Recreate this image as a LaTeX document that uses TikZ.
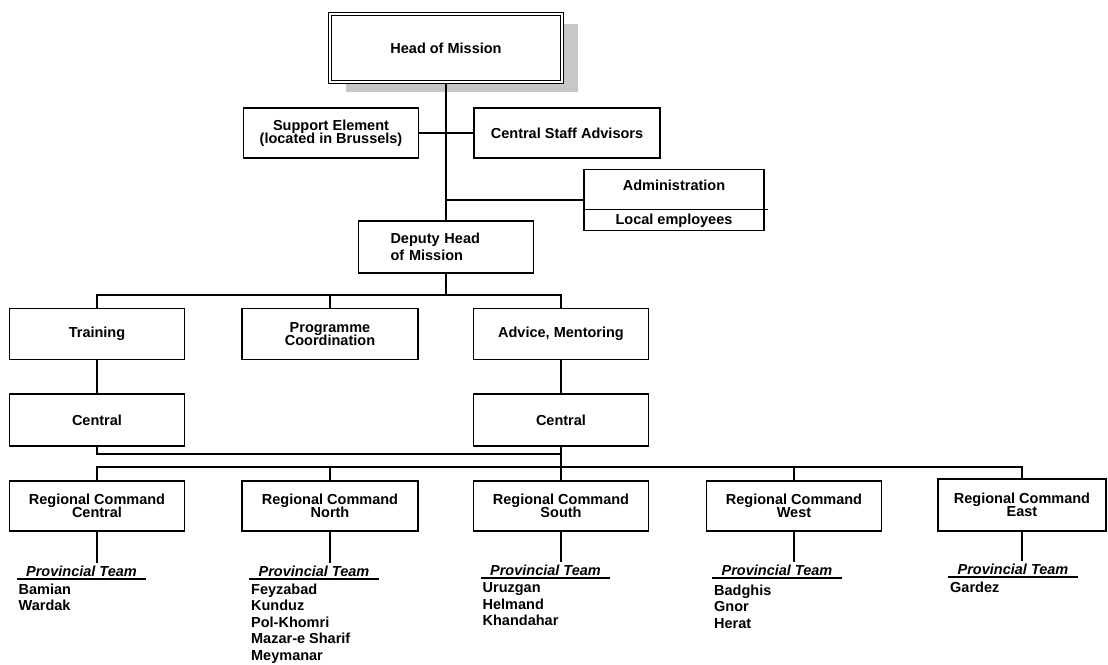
\documentclass[tikz,border=0pt]{standalone}
\usepackage{fontspec}
\setmainfont{Liberation Sans}
\usetikzlibrary{shadows}
\newcommand\tightlines{\lineskiplimit-20pt\relax}

\begin{document}
\begin{tikzpicture}[x=1pt,y=-1pt,line width=1.5pt,
  font=\bfseries\fontsize{14.5pt}{13.5pt}\selectfont\tightlines,
  box/.style={draw,rectangle,minimum width=175pt,minimum height=51pt,align=center,inner sep=2pt},
  team/.style={font=\bfseries\itshape\fontsize{14.5pt}{12pt}\selectfont,inner xsep=8.5pt,inner ysep=2pt,text depth=0pt,anchor=south},
  places/.style={font=\bfseries\fontsize{14.5pt}{16.5pt}\selectfont\tightlines,align=left,anchor=north west,inner sep=1pt}]

\useasboundingbox (0,0) rectangle (1108,664);

\node[box,minimum width=232pt,minimum height=68pt,fill=white,double,double distance=1.4pt,line width=1.1pt,
  drop shadow={shadow xshift=16pt,shadow yshift=-10pt,fill=black!22,opacity=1}] (n_head) at (446,48) {Head of Mission};
\node[box,minimum height=50pt] (n_supp) at (331,133) {Support Element\\(located in Brussels)};
\node[box,minimum width=186pt,minimum height=50pt] (n_staff) at (567,133) {Central Staff Advisors};
\node[box,minimum width=180pt,minimum height=61pt] (n_admin) at (674,200) {};
\node (n_adm) at (674,185) {Administration};
\node (n_loc) at (674,221) {Local employees};
\node[box,minimum height=52pt,text width=111pt,inner xsep=32pt,align=left,
  font=\bfseries\fontsize{14.5pt}{17pt}\selectfont] (n_dep) at (446,247) {Deputy Head\\of Mission};

\node[box] (n_train) at (97,334) {Training};
\node[box,minimum width=176pt,font=\bfseries\fontsize{14.5pt}{12.5pt}\selectfont\tightlines] (n_prog) at (330,334) {Programme\\Coordination};
\node[box] (n_adv) at (561,334) {Advice, Mentoring};
\node[box,minimum height=52pt] (n_ct) at (97,420) {Central};
\node[box,minimum height=52pt] (n_ca) at (561,420) {Central};

\node[box,minimum height=50pt] (rc_c) at (97,506) {Regional Command\\Central};
\node[box,minimum width=176pt,minimum height=50pt] (rc_n) at (330,506) {Regional Command\\North};
\node[box,minimum height=50pt] (rc_s) at (561,506) {Regional Command\\South};
\node[box,minimum height=50pt] (rc_w) at (794,506) {Regional Command\\West};
\node[box,minimum width=168pt,minimum height=52pt] (rc_e) at (1022,505) {Regional Command\\East};

\node[team] (pt_c) at (81.5,579) {Provincial Team};
\node[team] (pt_n) at (314,579) {Provincial Team};
\node[team] (pt_s) at (545.5,578) {Provincial Team};
\node[team] (pt_w) at (777,578) {Provincial Team};
\node[team] (pt_e) at (1013,577) {Provincial Team};

\node[places] (pl_c) at ([yshift=-3pt]pt_c.south west) {Bamian\\Wardak};
\node[places] (pl_n) at ([yshift=-3pt]pt_n.south west) {Feyzabad\\Kunduz\\Pol-Khomri\\Mazar-e Sharif\\Meymanar};
\node[places] (pl_s) at ([yshift=-3pt]pt_s.south west) {Uruzgan\\Helmand\\Khandahar};
\node[places] (pl_w) at ([yshift=-5pt]pt_w.south west) {Badghis\\Gnor\\Herat};
\node[places] (pl_e) at ([yshift=-3pt]pt_e.south west) {Gardez};

\coordinate (b_1) at (0,295);
\coordinate (b_2) at (0,454);
\coordinate (b_3) at (0,467);

\draw (n_head.south) -- (n_head.south |- n_dep.north);
\draw (n_supp) -- (n_staff);
\draw (n_admin.west) -- (n_admin.west -| n_head.south);
\draw ([yshift=22pt]n_admin.south west) -- ([yshift=22pt,xshift=3pt]n_admin.south east);
\draw (n_dep.south) -- (n_dep.south |- b_1);
\draw (n_train.north) -- (n_train.north |- b_1) -| (n_adv.north);
\draw (n_prog.north) -- (n_prog.north |- b_1);
\draw (n_train) -- (n_ct);
\draw (n_adv) -- (n_ca);
\draw (n_ct.south) -- (n_ct.south |- b_2) -- (n_ca.south |- b_2);
\draw (n_ca) -- (rc_s);
\draw (rc_c.north) -- (rc_c.north |- b_3) -| (rc_e.north);
\draw (rc_n.north) -- (rc_n.north |- b_3);
\draw (rc_w.north) -- (rc_w.north |- b_3);
\foreach \r in {c,n,s,w,e} {
  \draw (rc_\r.south) -- (rc_\r.south |- pt_\r.north);
  \draw[line width=1.2pt] (pt_\r.south west) -- (pt_\r.south east);
}
\end{tikzpicture}
\end{document}
